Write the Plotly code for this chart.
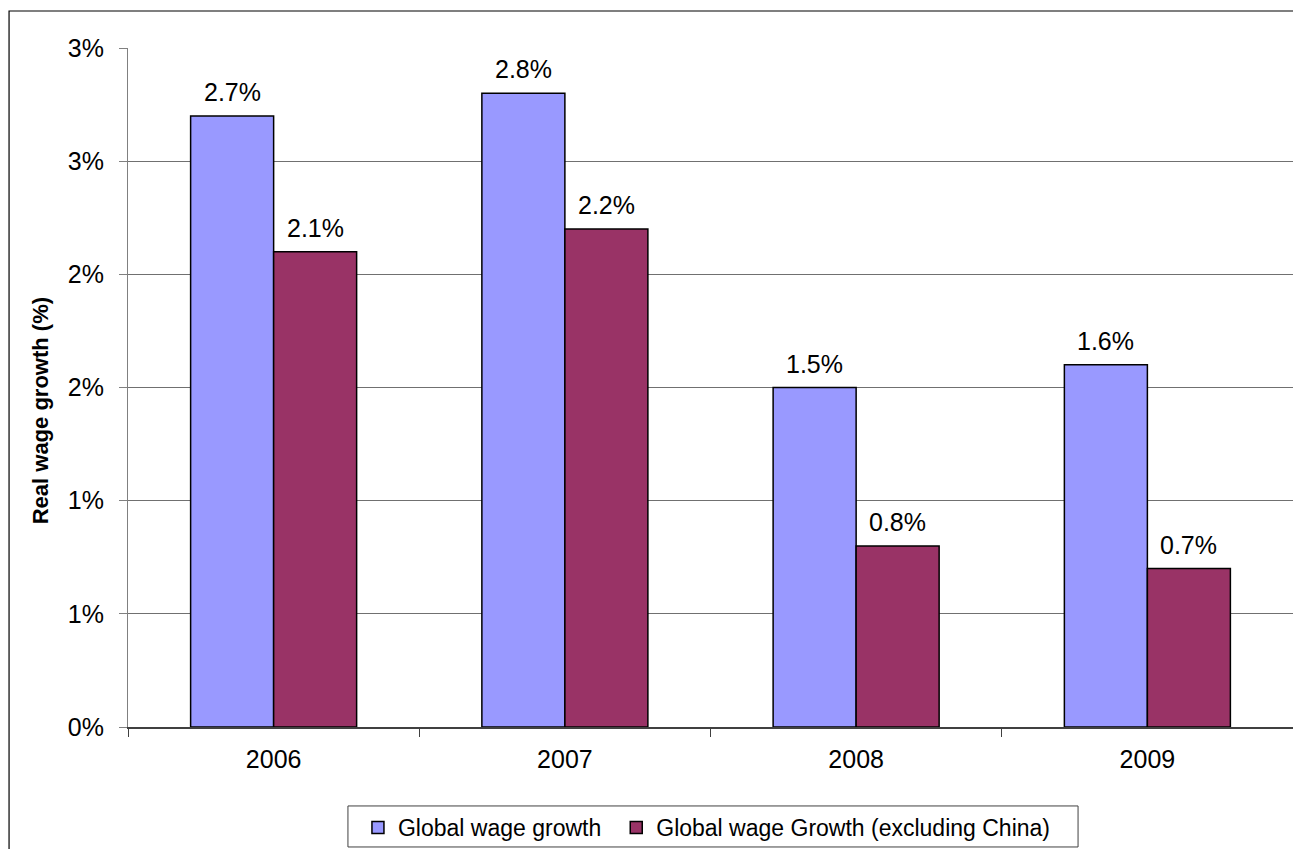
import plotly.graph_objects as go

# Data
years = ["2006", "2007", "2008", "2009"]
global_growth = [2.7, 2.8, 1.5, 1.6]
global_growth_ex_china = [2.1, 2.2, 0.8, 0.7]
y_tick_values = [0, 0.5, 1.0, 1.5, 2.0, 2.5, 3.0]
y_tick_labels = ["0%", "1%", "1%", "2%", "2%", "3%", "3%"]

FONT = "Liberation Sans, Arial, sans-serif"
BLUE = "#9999FF"
MAROON = "#993366"
BAR_GAP = 0.43

fig = go.Figure()

series = [
    ("Global wage growth", global_growth, BLUE),
    ("Global wage Growth (excluding China)", global_growth_ex_china, MAROON),
]
for name, values, color in series:
    fig.add_trace(go.Bar(
        x=years,
        y=values,
        name=name,
        marker=dict(color=color, line=dict(color="#000000", width=1.5)),
    ))

# value labels above each bar, offset to the centre of its bar within the group
half_bar = (1 - BAR_GAP) / 4
annotations = []
for s, (name, values, color) in enumerate(series):
    shift = -half_bar if s == 0 else half_bar
    for i, v in enumerate(values):
        annotations.append(dict(
            x=i + shift, y=v, xref="x", yref="y",
            text=f"{v:.1f}%", showarrow=False,
            yanchor="bottom", xanchor="center", yshift=8,
            font=dict(family=FONT, size=25, color="#000000"),
        ))

# y-axis title
annotations.append(dict(
    x=-0.0755, y=0.465, xref="paper", yref="paper",
    text="<b>Real wage growth (%)</b>", textangle=-90, showarrow=False,
    xanchor="center", yanchor="middle",
    font=dict(family=FONT, size=22, color="#000000"),
))

fig.update_layout(
    width=1293,
    height=849,
    margin=dict(l=128, r=0, t=48, b=122),
    paper_bgcolor="#FFFFFF",
    plot_bgcolor="#FFFFFF",
    font=dict(family=FONT, size=25, color="#000000"),
    barmode="group",
    bargap=BAR_GAP,
    bargroupgap=0,
    showlegend=True,
    legend=dict(
        orientation="h",
        x=0.1888,
        xanchor="left",
        y=-0.1163,
        yanchor="top",
        borderwidth=0,
        bgcolor="rgba(0,0,0,0)",
        indentation=10,
        font=dict(family=FONT, size=23, color="#000000"),
    ),
    xaxis=dict(
        type="category",
        showline=True,
        linecolor="#404040",
        linewidth=1.5,
        ticks="outside",
        tickson="boundaries",
        ticklen=8,
        tickcolor="#404040",
        ticklabelstandoff=9,
        tickfont=dict(family=FONT, size=25, color="#000000"),
        showgrid=False,
    ),
    yaxis=dict(
        range=[0, 3.0],
        tickvals=y_tick_values,
        ticktext=y_tick_labels,
        showline=True,
        linecolor="#808080",
        linewidth=1,
        ticks="outside",
        ticklen=8,
        tickcolor="#808080",
        ticklabelstandoff=10,
        tickfont=dict(family=FONT, size=25, color="#000000"),
        showgrid=True,
        gridcolor="#707070",
        gridwidth=1,
        zeroline=False,
    ),
    annotations=annotations,
    shapes=[
        # chart-area frame (top and left edges visible)
        dict(type="rect", xref="paper", yref="paper",
             x0=-0.1021, x1=1.02, y0=-0.25, y1=1.0545,
             line=dict(color="#000000", width=1.2), layer="below"),
        # legend frame
        dict(type="rect", xref="paper", yref="paper",
             x0=0.1888, x1=0.8155, y0=-0.1163, y1=-0.1767,
             line=dict(color="#404040", width=1), layer="below"),
    ],
)

fig.write_html("out.html")
